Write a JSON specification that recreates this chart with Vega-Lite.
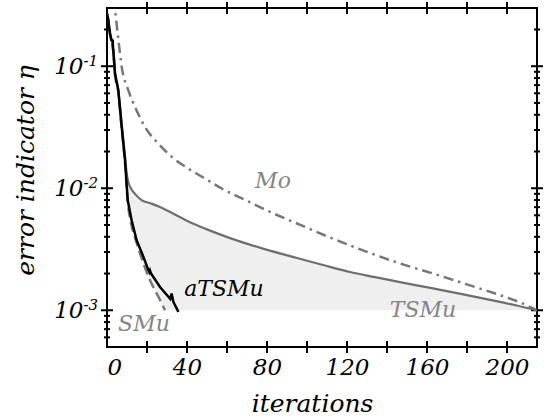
{
  "$schema": "https://vega.github.io/schema/vega-lite/v6.json",
  "width": 430,
  "height": 339,
  "autosize": {"type": "none"},
  "padding": {"left": 107, "top": 8, "right": 9, "bottom": 73},
  "config": {
    "view": {"stroke": "black", "strokeWidth": 2},
    "font": "DejaVu Serif",
    "axis": {
      "domain": false, "grid": false, "ticks": false,
      "labelFont": "DejaVu Serif", "labelFontStyle": "italic", "labelFontSize": 23, "labelColor": "black",
      "titleFont": "DejaVu Serif", "titleFontStyle": "italic", "titleFontWeight": "normal", "titleFontSize": 25, "titleColor": "black"
    }
  },
  "datasets": {
    "xticks": [
      {"tx": 20}, {"tx": 40}, {"tx": 60}, {"tx": 80}, {"tx": 100}, {"tx": 120}, {"tx": 140}, {"tx": 160}, {"tx": 180}, {"tx": 200}
    ],
    "yticks": [
      {"ty": 0.0006, "kind": "minor"}, {"ty": 0.0007, "kind": "minor"}, {"ty": 0.0008, "kind": "minor"}, {"ty": 0.0009, "kind": "minor"},
      {"ty": 0.001, "kind": "major"},
      {"ty": 0.002, "kind": "minor"}, {"ty": 0.003, "kind": "minor"}, {"ty": 0.004, "kind": "minor"}, {"ty": 0.005, "kind": "minor"},
      {"ty": 0.006, "kind": "minor"}, {"ty": 0.007, "kind": "minor"}, {"ty": 0.008, "kind": "minor"}, {"ty": 0.009, "kind": "minor"},
      {"ty": 0.01, "kind": "major"},
      {"ty": 0.02, "kind": "minor"}, {"ty": 0.03, "kind": "minor"}, {"ty": 0.04, "kind": "minor"}, {"ty": 0.05, "kind": "minor"},
      {"ty": 0.06, "kind": "minor"}, {"ty": 0.07, "kind": "minor"}, {"ty": 0.08, "kind": "minor"}, {"ty": 0.09, "kind": "minor"},
      {"ty": 0.1, "kind": "major"},
      {"ty": 0.2, "kind": "minor"}
    ],
    "shade": [
      {"iter": 9.3, "hi": 0.0165, "lo": 0.0162},
      {"iter": 9.8, "hi": 0.0135, "lo": 0.0115},
      {"iter": 10.5, "hi": 0.0115, "lo": 0.0075},
      {"iter": 11.5, "hi": 0.0103, "lo": 0.006},
      {"iter": 12.3, "hi": 0.0097, "lo": 0.0051},
      {"iter": 14.3, "hi": 0.0089, "lo": 0.0038},
      {"iter": 17.3, "hi": 0.008, "lo": 0.00267},
      {"iter": 21.5, "hi": 0.0075, "lo": 0.00176},
      {"iter": 25.7, "hi": 0.0071, "lo": 0.00129},
      {"iter": 29, "hi": 0.0067, "lo": 0.001},
      {"iter": 33, "hi": 0.0062, "lo": 0.001},
      {"iter": 41.5, "hi": 0.00526, "lo": 0.001},
      {"iter": 50, "hi": 0.0046, "lo": 0.001},
      {"iter": 61.5, "hi": 0.0039, "lo": 0.001},
      {"iter": 78, "hi": 0.0032, "lo": 0.001},
      {"iter": 95, "hi": 0.00268, "lo": 0.001},
      {"iter": 108, "hi": 0.00235, "lo": 0.001},
      {"iter": 121.5, "hi": 0.00206, "lo": 0.001},
      {"iter": 134, "hi": 0.00187, "lo": 0.001},
      {"iter": 146.5, "hi": 0.0017, "lo": 0.001},
      {"iter": 163, "hi": 0.00151, "lo": 0.001},
      {"iter": 180, "hi": 0.00133, "lo": 0.001},
      {"iter": 196.5, "hi": 0.00117, "lo": 0.001},
      {"iter": 215, "hi": 0.001, "lo": 0.001}
    ],
    "Mo": [
      {"iter": 3.2, "eta": 0.36}, {"iter": 4, "eta": 0.288}, {"iter": 5.35, "eta": 0.185}, {"iter": 7.35, "eta": 0.0987},
      {"iter": 10.65, "eta": 0.0636}, {"iter": 14, "eta": 0.0464}, {"iter": 19, "eta": 0.0318}, {"iter": 25.65, "eta": 0.0232},
      {"iter": 32.35, "eta": 0.0181}, {"iter": 40.65, "eta": 0.0145}, {"iter": 49, "eta": 0.012}, {"iter": 57.35, "eta": 0.00995},
      {"iter": 70.65, "eta": 0.0078}, {"iter": 78, "eta": 0.0068}, {"iter": 95, "eta": 0.00514}, {"iter": 111.5, "eta": 0.00395},
      {"iter": 121.5, "eta": 0.0034}, {"iter": 146.5, "eta": 0.00242}, {"iter": 163, "eta": 0.002}, {"iter": 180, "eta": 0.00163},
      {"iter": 196.5, "eta": 0.00133}, {"iter": 206.5, "eta": 0.00116}, {"iter": 215, "eta": 0.001}
    ],
    "TSMu": [
      {"iter": 0, "eta": 0.27}, {"iter": 0.65, "eta": 0.24}, {"iter": 1.5, "eta": 0.186}, {"iter": 2.35, "eta": 0.164},
      {"iter": 3.15, "eta": 0.136}, {"iter": 4, "eta": 0.088}, {"iter": 5.65, "eta": 0.064}, {"iter": 7.4, "eta": 0.033},
      {"iter": 9, "eta": 0.0185}, {"iter": 9.8, "eta": 0.0135}, {"iter": 10.5, "eta": 0.0115}, {"iter": 11.5, "eta": 0.0103},
      {"iter": 14, "eta": 0.009}, {"iter": 17.3, "eta": 0.008}, {"iter": 22, "eta": 0.0075}, {"iter": 26.5, "eta": 0.00703},
      {"iter": 33, "eta": 0.0062}, {"iter": 41.5, "eta": 0.00526}, {"iter": 50, "eta": 0.0046}, {"iter": 61.5, "eta": 0.0039},
      {"iter": 78, "eta": 0.0032}, {"iter": 95, "eta": 0.00268}, {"iter": 108, "eta": 0.00235}, {"iter": 121.5, "eta": 0.00206},
      {"iter": 134, "eta": 0.00187}, {"iter": 146.5, "eta": 0.0017}, {"iter": 163, "eta": 0.00151}, {"iter": 180, "eta": 0.00133},
      {"iter": 196.5, "eta": 0.00117}, {"iter": 215, "eta": 0.001}
    ],
    "SMu": [
      {"iter": 0, "eta": 0.27}, {"iter": 0.65, "eta": 0.236}, {"iter": 1.5, "eta": 0.183}, {"iter": 2.35, "eta": 0.16},
      {"iter": 3.15, "eta": 0.133}, {"iter": 4, "eta": 0.085}, {"iter": 5.6, "eta": 0.062}, {"iter": 7.3, "eta": 0.031},
      {"iter": 9, "eta": 0.0162}, {"iter": 10.35, "eta": 0.0078}, {"iter": 12, "eta": 0.0052}, {"iter": 14.3, "eta": 0.0038},
      {"iter": 17.3, "eta": 0.00267}, {"iter": 21.5, "eta": 0.00176}, {"iter": 25.7, "eta": 0.00129}, {"iter": 29, "eta": 0.001}
    ],
    "aTSMu": [
      {"iter": 0, "eta": 0.27}, {"iter": 0.65, "eta": 0.238}, {"iter": 1.5, "eta": 0.185}, {"iter": 2.2, "eta": 0.163},
      {"iter": 2.9, "eta": 0.162}, {"iter": 3.0, "eta": 0.14}, {"iter": 3.15, "eta": 0.135}, {"iter": 4, "eta": 0.0871},
      {"iter": 5.65, "eta": 0.0636}, {"iter": 7.35, "eta": 0.0318}, {"iter": 9, "eta": 0.017}, {"iter": 10.35, "eta": 0.008},
      {"iter": 12.3, "eta": 0.00547}, {"iter": 14.8, "eta": 0.00375}, {"iter": 18.2, "eta": 0.00274}, {"iter": 20.7, "eta": 0.00213},
      {"iter": 21.2, "eta": 0.00205}, {"iter": 21.5, "eta": 0.00212}, {"iter": 22, "eta": 0.002}, {"iter": 26.5, "eta": 0.00155},
      {"iter": 30.7, "eta": 0.00129}, {"iter": 31.6, "eta": 0.00124}, {"iter": 32.3, "eta": 0.00137}, {"iter": 33.2, "eta": 0.00117},
      {"iter": 35.7, "eta": 0.00097}
    ],
    "labels": [
      {"iter": 83, "eta": 0.0114, "label": "Mo"},
      {"iter": 58.5, "eta": 0.00149, "label": "aTSMu"},
      {"iter": 18.5, "eta": 0.000767, "label": "SMu"},
      {"iter": 158, "eta": 0.001, "label": "TSMu"}
    ]
  },
  "layer": [
    {
      "data": {"name": "shade"},
      "mark": {"type": "area", "color": "#efefef", "clip": true, "interpolate": "monotone"},
      "encoding": {
        "x": {"field": "iter", "type": "quantitative",
          "scale": {"domain": [0, 215], "nice": false, "zero": false},
          "axis": {"orient": "bottom", "values": [0, 40, 80, 120, 160, 200], "labelPadding": 9,
            "title": "iterations", "titleX": 205, "titleY": 64, "titleBaseline": "alphabetic"}},
        "y": {"field": "hi", "type": "quantitative",
          "scale": {"type": "log", "domain": [0.0005, 0.3], "nice": false},
          "axis": {"orient": "left", "values": [0.001, 0.01, 0.1], "labelExpr": "'10'", "labelPadding": 24,
            "title": "error indicator η", "titleX": -74, "titleY": 162, "titleBaseline": "alphabetic", "titleAngle": 270}},
        "y2": {"field": "lo"}
      }
    },
    {
      "data": {"name": "xticks"},
      "mark": {"type": "tick", "orient": "vertical", "size": 12, "thickness": 2, "color": "black", "opacity": 1},
      "encoding": {
        "x": {"field": "tx", "type": "quantitative", "axis": null},
        "y": {"datum": 0.0005, "type": "quantitative", "axis": null}
      }
    },
    {
      "data": {"name": "xticks"},
      "mark": {"type": "tick", "orient": "vertical", "size": 12, "thickness": 2, "color": "black", "opacity": 1},
      "encoding": {
        "x": {"field": "tx", "type": "quantitative", "axis": null},
        "y": {"datum": 0.3, "type": "quantitative", "axis": null}
      }
    },
    {
      "data": {"name": "yticks"},
      "mark": {"type": "tick", "orient": "horizontal", "thickness": 2, "color": "black", "opacity": 1},
      "encoding": {
        "y": {"field": "ty", "type": "quantitative", "axis": null},
        "x": {"datum": 0, "type": "quantitative", "axis": null},
        "size": {"field": "kind", "type": "nominal", "legend": null, "scale": {"domain": ["major", "minor"], "range": [12, 6]}}
      }
    },
    {
      "data": {"name": "yticks"},
      "mark": {"type": "tick", "orient": "horizontal", "thickness": 2, "color": "black", "opacity": 1},
      "encoding": {
        "y": {"field": "ty", "type": "quantitative", "axis": null},
        "x": {"datum": 215, "type": "quantitative", "axis": null},
        "size": {"field": "kind", "type": "nominal", "legend": null}
      }
    },
    {
      "data": {"name": "Mo"},
      "mark": {"type": "line", "color": "#777777", "strokeWidth": 2.5, "strokeDash": [10, 5, 2.5, 5], "clip": true, "interpolate": "monotone"},
      "encoding": {
        "x": {"field": "iter", "type": "quantitative", "axis": null},
        "y": {"field": "eta", "type": "quantitative", "axis": null}
      }
    },
    {
      "data": {"name": "TSMu"},
      "mark": {"type": "line", "color": "#6e6e6e", "strokeWidth": 2.2, "clip": true, "interpolate": "monotone"},
      "encoding": {
        "x": {"field": "iter", "type": "quantitative", "axis": null},
        "y": {"field": "eta", "type": "quantitative",
          "axis": {"orient": "left", "values": [0.001, 0.01, 0.1],
            "labelExpr": "datum.value == 0.1 ? '-1' : datum.value == 0.01 ? '-2' : '-3'",
            "labelFontSize": 15, "labelAlign": "left", "labelPadding": 24, "labelOffset": -6, "title": null}}
      }
    },
    {
      "data": {"name": "SMu"},
      "mark": {"type": "line", "color": "#777777", "strokeWidth": 2.5, "strokeDash": [10, 5], "clip": true, "interpolate": "monotone"},
      "encoding": {
        "x": {"field": "iter", "type": "quantitative", "axis": null},
        "y": {"field": "eta", "type": "quantitative", "axis": null}
      }
    },
    {
      "data": {"name": "aTSMu"},
      "mark": {"type": "line", "color": "black", "strokeWidth": 2.5, "clip": true},
      "encoding": {
        "x": {"field": "iter", "type": "quantitative", "axis": null},
        "y": {"field": "eta", "type": "quantitative", "axis": null}
      }
    },
    {
      "data": {"name": "labels"},
      "mark": {"type": "text", "font": "DejaVu Serif", "fontStyle": "italic", "fontSize": 22, "align": "center", "baseline": "middle"},
      "encoding": {
        "x": {"field": "iter", "type": "quantitative", "axis": null},
        "y": {"field": "eta", "type": "quantitative", "axis": null},
        "text": {"field": "label"},
        "color": {"field": "label", "type": "nominal", "legend": null,
          "scale": {"domain": ["Mo", "aTSMu", "SMu", "TSMu"], "range": ["#858585", "black", "#858585", "#858585"]}}
      }
    }
  ],
  "resolve": {"axis": {"x": "independent", "y": "independent"}}
}
